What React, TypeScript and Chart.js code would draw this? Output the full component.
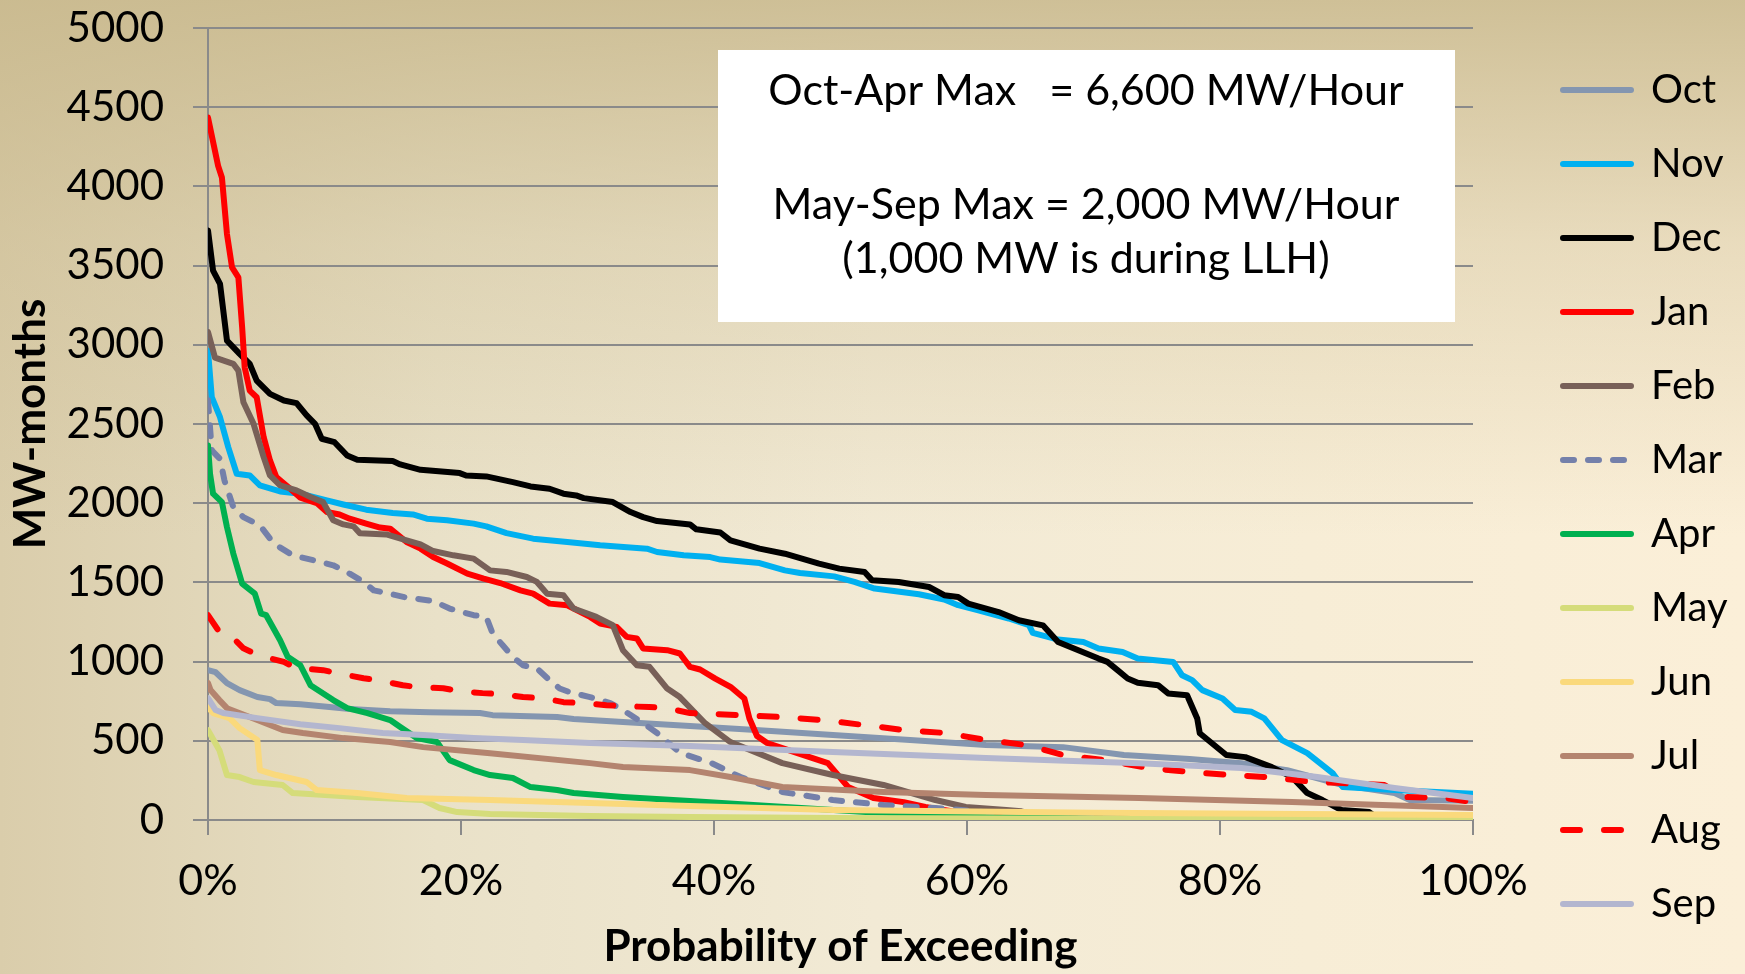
import React, { useEffect, useRef } from 'react';
import { Chart, registerables } from 'chart.js';

Chart.register(...registerables);

// ---------- data (x = probability of exceeding in %, y = MW-months) ----------
const MONTHS = ['Oct', 'Nov', 'Dec', 'Jan', 'Feb', 'Mar', 'Apr', 'May', 'Jun', 'Jul', 'Aug', 'Sep'];

const OCT: [number, number][] = [[0, 946], [0.6, 933], [1.5, 864], [2.5, 820], [3.9, 776], [4.9, 763], [5.4, 738], [7.3, 731], [9.6, 713], [11.2, 700], [14.4, 687], [17.5, 681], [21.5, 675], [22.5, 662], [27.6, 650], [28.9, 637], [32.8, 618], [38.1, 593], [43.3, 568], [49.4, 536], [55.5, 505], [61.5, 473], [67.6, 460], [72.4, 410], [77.6, 385], [81.7, 359], [85.3, 315], [89.7, 221], [93.8, 170], [95, 126], [100, 122]];
const NOV: [number, number][] = [[0, 2963], [0.3, 2669], [0.95, 2543], [1.6, 2354], [2.27, 2186], [3.3, 2175], [4.1, 2112], [5.7, 2074], [7.3, 2060], [9.4, 2018], [10.7, 1992], [12.5, 1959], [14.6, 1938], [16.2, 1929], [17.3, 1902], [18.9, 1892], [21, 1871], [22, 1854], [23.6, 1811], [25.7, 1776], [28.4, 1755], [31, 1734], [34.7, 1713], [35.5, 1692], [37.6, 1671], [39.7, 1660], [40.5, 1644], [43.6, 1622], [45.6, 1576], [46.8, 1559], [49.5, 1538], [51.1, 1503], [52.7, 1461], [56.2, 1425], [58.2, 1392], [59.3, 1356], [60.9, 1324], [63.3, 1272], [64.9, 1230], [65.2, 1181], [67.2, 1139], [69.2, 1124], [70.4, 1083], [72.3, 1061], [73.5, 1019], [76.3, 998], [77, 914], [77.8, 883], [78.6, 820], [80.2, 767], [81.2, 694], [82.5, 683], [83.5, 641], [84.9, 504], [86.9, 422], [88.9, 296], [89.7, 208], [93.8, 189], [100, 165]];
const DEC: [number, number][] = [[0, 3722], [0.4, 3468], [0.95, 3384], [1.5, 3026], [2.5, 2943], [3.3, 2880], [3.85, 2774], [4.9, 2690], [6, 2648], [7, 2632], [7.8, 2554], [8.46, 2501], [8.99, 2407], [10, 2385], [11, 2301], [11.8, 2274], [14.6, 2266], [15.2, 2245], [16.8, 2211], [19.9, 2190], [20.4, 2175], [22, 2169], [24.1, 2133], [25.5, 2106], [27, 2091], [28.1, 2060], [29.1, 2049], [29.7, 2032], [32, 2007], [33.4, 1944], [34.4, 1912], [35.5, 1887], [38.1, 1866], [38.6, 1835], [40.5, 1815], [41.3, 1765], [43.6, 1713], [45.6, 1681], [48.3, 1619], [49.9, 1587], [51.9, 1566], [52.5, 1513], [54.6, 1503], [57, 1471], [58.2, 1419], [59.3, 1408], [60.1, 1366], [62.5, 1313], [64.1, 1261], [66, 1229], [67.2, 1124], [68.8, 1072], [70.4, 1019], [71.1, 998], [71.9, 946], [72.7, 893], [73.5, 866], [75.1, 851], [75.9, 799], [77.4, 788], [78.2, 641], [78.4, 548], [80.5, 410], [82, 397], [84.1, 334], [85.7, 271], [86.9, 170], [88.1, 126], [89.6, 63], [91.8, 50], [92.5, 10], [100, 5]];
const JAN: [number, number][] = [[0, 4434], [0.8, 4130], [1.1, 4056], [1.5, 3699], [1.9, 3489], [2.4, 3426], [2.7, 3110], [2.9, 2858], [3.3, 2711], [3.85, 2669], [4.4, 2417], [4.9, 2270], [5.4, 2165], [6.5, 2091], [7.3, 2035], [8.6, 2001], [9.4, 1944], [10.4, 1929], [11.2, 1902], [12.5, 1871], [13.6, 1846], [14.4, 1839], [15.7, 1755], [16.8, 1713], [17.8, 1660], [18.9, 1619], [20.5, 1555], [21.8, 1524], [23.1, 1496], [24.7, 1450], [25.7, 1429], [27, 1366], [28.4, 1356], [30.2, 1282], [31, 1240], [32.3, 1219], [33.1, 1156], [33.9, 1146], [34.4, 1083], [36.3, 1072], [37.3, 1051], [38.1, 967], [38.9, 950], [40.1, 893], [41.3, 841], [42.4, 767], [42.8, 641], [43.4, 530], [44.2, 486], [46.6, 422], [49, 359], [50.6, 208], [52.6, 139], [55, 113], [56.7, 82], [60, 40], [65, 15], [100, 5]];
const FEB: [number, number][] = [[0, 3080], [0.55, 2919], [2, 2880], [2.4, 2837], [2.8, 2637], [3.6, 2501], [4.4, 2291], [4.9, 2175], [5.7, 2112], [7, 2081], [8.1, 2039], [9.1, 2007], [9.9, 1892], [10.7, 1866], [11.5, 1854], [12, 1811], [14.1, 1803], [15.7, 1765], [16.8, 1740], [17.8, 1698], [19.4, 1671], [21, 1650], [22.3, 1576], [23.6, 1566], [25.2, 1534], [26, 1503], [26.8, 1429], [28.1, 1419], [28.9, 1335], [30.7, 1282], [32, 1230], [32.8, 1072], [33.9, 977], [34.9, 967], [36.3, 830], [37.3, 776], [39.3, 611], [41.3, 492], [45.4, 359], [49.4, 284], [53.4, 221], [57.5, 126], [59.9, 82], [63.1, 63], [64.3, 55], [66, 20], [100, 5]];
const MAR: [number, number][] = [[0, 2650], [0.16, 2480], [0.3, 2333], [0.95, 2280], [1.3, 2144], [2, 1975], [2.8, 1912], [4.1, 1860], [5.2, 1745], [6.7, 1671], [7.8, 1650], [8.9, 1629], [9.9, 1608], [11.2, 1555], [12.3, 1503], [13.1, 1450], [14.1, 1433], [15.7, 1404], [17.8, 1383], [19.1, 1335], [21, 1293], [22, 1282], [22.5, 1177], [23.3, 1103], [24.1, 1030], [24.9, 977], [26, 957], [27, 883], [27.8, 830], [28.6, 807], [30.2, 776], [31.8, 738], [32.8, 694], [34.4, 612], [35.5, 549], [37.3, 425], [39.8, 359], [42.1, 271], [45.4, 177], [49.4, 126], [53.4, 95], [57.5, 76], [60, 60], [65, 20], [100, 5]];
const APR: [number, number][] = [[0, 2364], [0.16, 2186], [0.4, 2060], [1.1, 2007], [1.5, 1849], [2, 1682], [2.7, 1492], [3.7, 1429], [4.2, 1303], [4.6, 1293], [5.7, 1135], [6.3, 1030], [7.3, 977], [8.1, 851], [9.9, 757], [11, 706], [12.6, 675], [14.4, 631], [15.2, 587], [16.5, 517], [18.1, 492], [19.1, 378], [21, 315], [22.3, 284], [24.1, 265], [25.5, 208], [27.6, 189], [28.9, 170], [32.8, 145], [38.1, 120], [45, 85], [52, 50], [61.5, 19], [70, 10], [100, 5]];
const MAY: [number, number][] = [[0, 567], [0.9, 441], [1.5, 284], [2.5, 271], [3.6, 240], [5.9, 221], [6.7, 170], [11.8, 145], [17, 126], [18.3, 76], [19.7, 50], [22.3, 38], [30.2, 25], [38.1, 19], [50, 12], [70, 8], [100, 5]];
const JUN: [number, number][] = [[0, 713], [0.4, 675], [1.7, 643], [2.5, 580], [3.9, 505], [4.1, 315], [5.4, 284], [7.8, 240], [8.6, 189], [11.8, 170], [15.7, 139], [22.3, 126], [30.2, 107], [38.1, 88], [49.4, 63], [70, 45], [100, 32]];
const JUL: [number, number][] = [[0, 864], [0.2, 820], [0.9, 757], [1.5, 706], [3.9, 631], [5.9, 568], [7.5, 549], [10.7, 517], [14.4, 492], [17, 460], [22.3, 422], [30.2, 359], [32.8, 334], [38.1, 315], [41.3, 271], [45.4, 208], [53.4, 177], [61.5, 158], [73.6, 139], [85.7, 113], [100, 76]];
const AUG: [number, number][] = [[0, 1293], [0.9, 1187], [1.7, 1173], [2.8, 1084], [4, 1040], [6, 998], [7, 958], [9.1, 946], [10.2, 927], [12.3, 895], [13.4, 883], [15.4, 851], [16.5, 839], [18.6, 832], [19.9, 813], [21.7, 801], [23.3, 794], [24.9, 776], [26.5, 769], [28.1, 744], [29.6, 738], [31.5, 725], [32.8, 719], [34.9, 713], [36.3, 706], [38.1, 675], [42.1, 662], [45.4, 650], [48.6, 631], [51.9, 599], [55, 568], [58.3, 549], [61.5, 505], [64.7, 473], [67.6, 410], [70.8, 378], [74.4, 328], [77.6, 303], [80.9, 284], [83.7, 271], [87.4, 240], [89.7, 233], [93, 221], [94.6, 145], [97.8, 139], [100, 113]];
const SEP: [number, number][] = [[0, 769], [0.6, 694], [1.2, 675], [3.9, 643], [7.3, 605], [10.4, 580], [13.8, 549], [17, 536], [21, 517], [24.9, 505], [30.2, 486], [38.1, 467], [49.4, 429], [61.5, 391], [73.6, 359], [81.7, 328], [87.7, 271], [93.8, 202], [100, 139]];

const SERIES = [OCT, NOV, DEC, JAN, FEB, MAR, APR, MAY, JUN, JUL, AUG, SEP];
const COLORS = ['#8496b0', '#00b0f0', '#000000', '#ff0000', '#786058', '#7480aa', '#00b050', '#d5dc7a', '#fad97c', '#b4846f', '#ff0000', '#b3b6cf'];
const DASHES: Record<string, number[]> = { Mar: [11, 14], Aug: [17, 24] };

const X_MIN = 0;
const X_MAX = 100;
const X_STEP = 20;
const Y_MIN = 0;
const Y_MAX = 5000;
const Y_STEP = 500;

const X_TITLE = 'Probability of Exceeding';
const Y_TITLE = 'MW-months';
const NOTE_LINES = ['Oct-Apr Max   = 6,600 MW/Hour', 'May-Sep Max = 2,000 MW/Hour', '(1,000 MW is during LLH)'];

// ---------- styling / layout ----------
const W = 1745;
const H = 974;
const FONT = 'Lato';
const GRID = '#8a8a8a';
const LINE_W = 6;

const noteBox = {
  id: 'noteBox',
  afterDraw(chart: any) {
    const ctx = chart.ctx;
    ctx.save();
    ctx.fillStyle = '#ffffff';
    ctx.fillRect(718, 50, 737, 272);
    ctx.fillStyle = '#000000';
    ctx.font = `43px ${FONT}`;
    ctx.textAlign = 'center';
    ctx.textBaseline = 'alphabetic';
    const cx = 1086;
    const baselines = [105, 219, 273];
    NOTE_LINES.forEach((t, i) => ctx.fillText(t, cx, baselines[i]));
    ctx.restore();
  },
};

const legendWidthFix = {
  id: 'legendWidthFix',
  beforeInit(chart: any) {
    const lg = chart.legend;
    if (lg && !lg.__fixed) {
      const orig = lg.fit;
      lg.fit = function () {
        orig.call(this);
        this.width = 216;
      };
      lg.__fixed = true;
    }
  },
};

export default function App() {
  const ref = useRef<HTMLCanvasElement | null>(null);

  useEffect(() => {
    if (!ref.current) return;
    const datasets = MONTHS.map((m, i) => ({
      label: m,
      data: SERIES[i].map(([x, y]) => ({ x, y })),
      borderColor: COLORS[i],
      backgroundColor: COLORS[i],
      borderWidth: LINE_W,
      borderDash: DASHES[m] || [],
      borderCapStyle: 'round',
      borderJoinStyle: 'round',
      pointRadius: 0,
      pointHoverRadius: 0,
      tension: 0,
      fill: false,
      order: MONTHS.length - i,
    }));

    const chart = new Chart(ref.current, {
      type: 'line',
      data: { datasets } as any,
      options: {
        animation: false,
        responsive: false,
        events: [],
        layout: { padding: { top: 28, left: 0, right: 0, bottom: 0 } },
        plugins: {
          tooltip: { enabled: false },
          legend: {
            position: 'right',
            align: 'start',
            title: { display: true, text: '', font: { size: 5 }, padding: 1 },
            labels: {
              usePointStyle: true,
              pointStyleWidth: 68,
              padding: 34,
              color: '#000',
              font: { family: FONT, size: 40 },
              generateLabels: (c: any) =>
                c.data.datasets.map((ds: any, i: number) => ({
                  text: ds.label,
                  datasetIndex: i,
                  hidden: false,
                  fillStyle: ds.borderColor,
                  strokeStyle: ds.borderColor,
                  lineWidth: LINE_W,
                  lineCap: 'round',
                  lineJoin: 'round',
                  lineDash: ds.borderDash || [],
                  pointStyle: 'line',
                  fontColor: '#000',
                })),
            },
          },
        },
        scales: {
          x: {
            type: 'linear',
            min: X_MIN,
            max: X_MAX,
            afterFit: (s: any) => {
              s.height = H - 820;
              s.paddingLeft = 0;
              s.paddingRight = 0;
            },
            ticks: {
              stepSize: X_STEP,
              padding: 20,
              color: '#000',
              font: { family: FONT, size: 43 },
              callback: (v: any) => `${v}%`,
            },
            grid: { drawOnChartArea: false, drawTicks: true, tickLength: 15, color: GRID, lineWidth: 2 },
            border: { display: true, color: GRID, width: 2 },
            title: {
              display: true,
              text: X_TITLE,
              color: '#000',
              font: { family: FONT, size: 44, weight: 'bold' },
              padding: { top: 0, bottom: 1 },
            },
          },
          y: {
            type: 'linear',
            min: Y_MIN,
            max: Y_MAX,
            afterFit: (s: any) => {
              s.width = 208;
              s.paddingTop = 0;
              s.paddingBottom = 0;
            },
            ticks: {
              stepSize: Y_STEP,
              padding: 29,
              color: '#000',
              font: { family: FONT, size: 42 },
              callback: (v: any) => String(v),
            },
            grid: { color: GRID, lineWidth: 2, tickLength: 15, drawTicks: true },
            border: { display: true, color: GRID, width: 2 },
            title: {
              display: true,
              text: Y_TITLE,
              color: '#000',
              font: { family: FONT, size: 44, weight: 'bold' },
              padding: { top: 4, bottom: 0 },
            },
          },
          gap: {
            type: 'linear',
            position: 'right',
            display: true,
            afterFit: (s: any) => {
              s.width = 56;
              s.paddingTop = 0;
              s.paddingBottom = 0;
            },
            ticks: { display: false },
            grid: { display: false, drawTicks: false },
            border: { display: false },
          },
        },
      } as any,
      plugins: [noteBox, legendWidthFix],
    });
    return () => chart.destroy();
  }, []);

  return (
    <div
      style={{
        position: 'fixed',
        left: 0,
        top: 0,
        width: W,
        height: H,
        background:
          'linear-gradient(to bottom, rgba(200,184,140,0.85) 0%, rgba(200,184,140,0.35) 25%, rgba(200,184,140,0) 55%), linear-gradient(to right, #dacdab 0%, #e9e1c8 25%, #f2ead5 50%, #f7edd6 75%, #fbefd8 100%)',
      }}
    >
      <canvas ref={ref} width={W} height={H} style={{ display: 'block', width: W, height: H }} />
    </div>
  );
}
